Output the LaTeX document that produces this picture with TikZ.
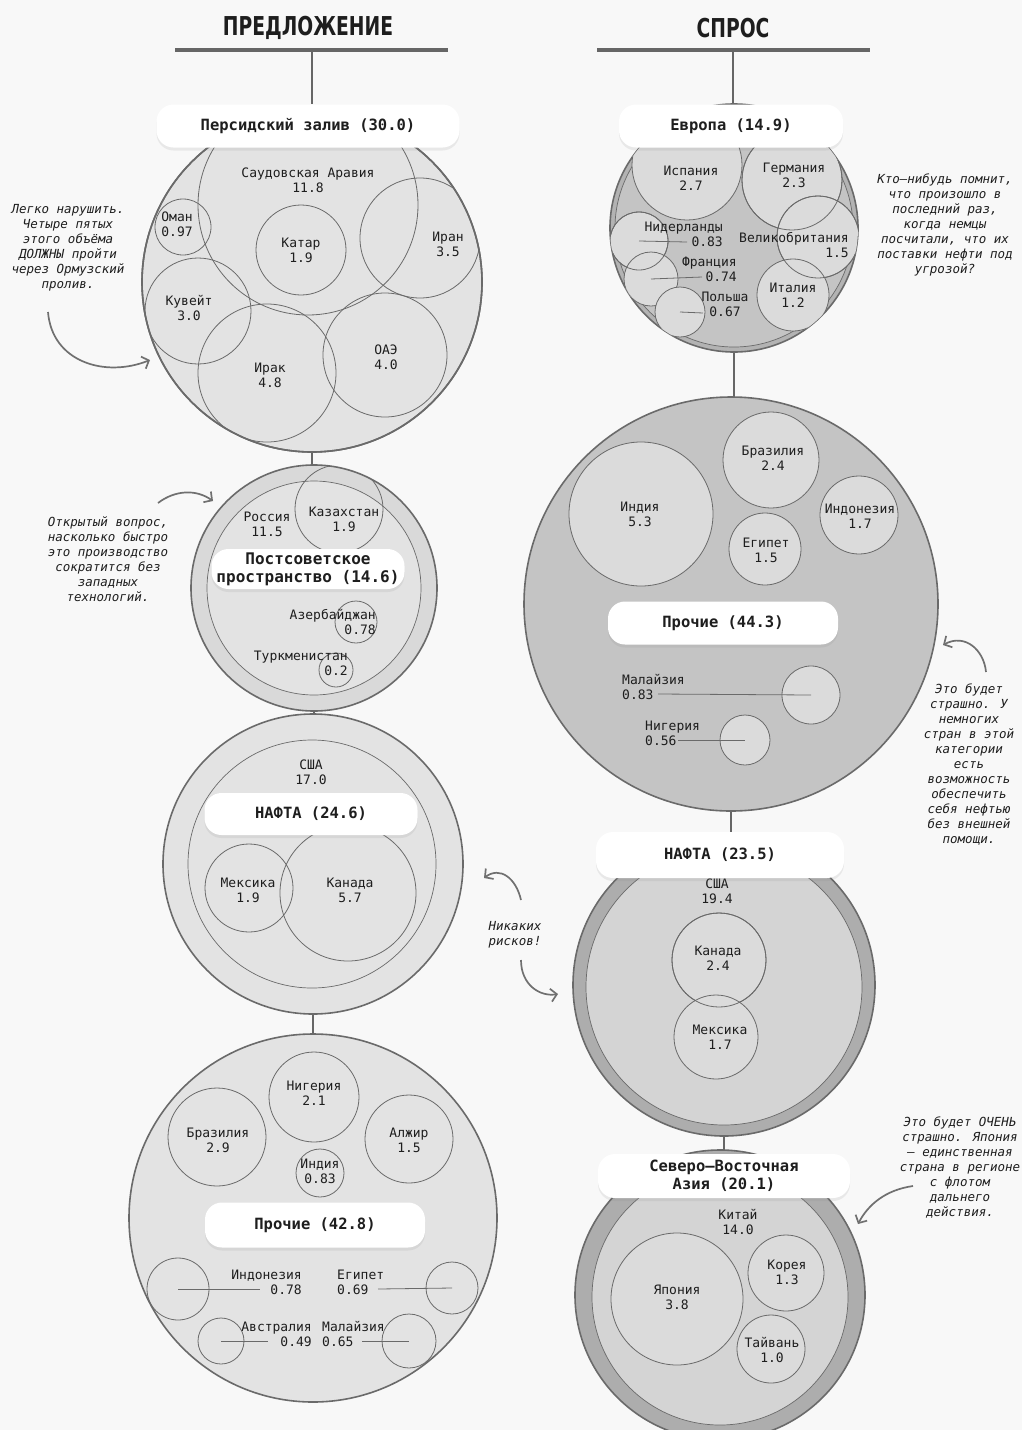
\documentclass[tikz,border=0pt]{standalone}
\usepackage{fontspec}
\setmainfont{DejaVu Sans Mono}
\newfontfamily\hdrfont[FakeStretch=0.72]{DejaVu Sans}
\usetikzlibrary{arrows.meta,shadows}
\pgfdeclarelayer{back}
\pgfdeclarelayer{links}
\pgfsetlayers{back,links,main}
\definecolor{bgc}{HTML}{F8F8F8}
\definecolor{edge}{HTML}{6A6A6A}
\definecolor{lightfill}{HTML}{E3E3E3}
\definecolor{psfill}{HTML}{D9D9D9}
\definecolor{midfill}{HTML}{C4C4C4}
\definecolor{subfill}{HTML}{DBDBDB}
\definecolor{ringfill}{HTML}{ADADAD}
\definecolor{innerfill}{HTML}{D4D4D4}
\definecolor{annot}{HTML}{707070}
\definecolor{linkc}{HTML}{666666}
\definecolor{txt}{HTML}{1E1E1E}
\tikzset{
 region/.style={circle, draw=edge, line width=1.6pt, inner sep=0pt, outer sep=0pt},
 inring/.style={circle, draw=edge, line width=0.7pt, inner sep=0pt, outer sep=0pt},
 subc/.style={circle, draw=edge, line width=0.8pt, inner sep=0pt, outer sep=0pt},
 cty/.style={font=\fontsize{13}{15}\selectfont, text=txt, align=center, inner sep=0pt},
 rbox/.style={fill=white, rounded corners=17pt, inner sep=0pt, font=\fontsize{15.5}{18}\selectfont\bfseries, text=txt, align=center, drop shadow={opacity=0.13, shadow xshift=0pt, shadow yshift=-3pt}},
 ann/.style={font=\fontsize{12.5}{15}\selectfont\itshape, text=txt, align=center, inner sep=0pt},
 link/.style={draw=linkc, line width=2.6pt},
 hbar/.style={draw=linkc, line width=3.6pt},
 annarrow/.style={draw=annot, line width=1.7pt, -{Straight Barb[length=6pt,width=13pt]}},
 ptr/.style={draw=edge, line width=0.8pt},
 hdr/.style={font=\hdrfont\bfseries\fontsize{26}{30}\selectfont, text=txt, inner sep=0pt}
}
\begin{document}
\begin{tikzpicture}[x=1pt,y=-1pt]
\useasboundingbox (0,0) rectangle (1022,1430);
\begin{pgfonlayer}{back}
\fill[bgc] (0,0) rectangle (1022,1430);
\end{pgfonlayer}

% ---------- headers ----------
\node[hdr] (hL) at (308,28) {ПРЕДЛОЖЕНИЕ};
\node[hdr] (hR) at (733,28) {СПРОС};
\coordinate (barL1) at (175,50); \coordinate (barL2) at (448,50); \coordinate (barLm) at (312,50);
\coordinate (barR1) at (597,50); \coordinate (barR2) at (870,50); \coordinate (barRm) at (733,50);
\draw[hbar] (barL1) -- (barL2);
\draw[hbar] (barR1) -- (barR2);

% ---------- SUPPLY: Persian Gulf ----------
\node[region, fill=lightfill, minimum size=340pt] (pgC) at (312,282) {};
\begin{scope}
\clip (312,282) circle (170pt);
\node[subc, minimum size=220pt] (sa) at (308,205) {};
\node[subc, minimum size=56pt] (om) at (183,227) {};
\node[subc, minimum size=90pt] (qa) at (301,250) {};
\node[subc, minimum size=120pt] (ir) at (420,238) {};
\node[subc, minimum size=106pt] (ku) at (198,311) {};
\node[subc, minimum size=138pt] (iq) at (267,373) {};
\node[subc, minimum size=124pt] (ae) at (385,355) {};
\end{scope}
\draw[region, fill=none] (pgC.center) circle (170pt);
\node[cty] (saT) at (308,180) {Саудовская Аравия\\11.8};
\node[cty] (omT) at (177,224) {Оман\\0.97};
\node[cty] (qaT) at (301,250) {Катар\\1.9};
\node[cty] (irT) at (448,244) {Иран\\3.5};
\node[cty] (kuT) at (189,308) {Кувейт\\3.0};
\node[cty] (iqT) at (270,375) {Ирак\\4.8};
\node[cty] (aeT) at (386,357) {ОАЭ\\4.0};
\node[rbox, minimum width=303pt, minimum height=43pt] (pgBox) at (308,126) {Персидский залив (30.0)};

% ---------- SUPPLY: post-Soviet ----------
\node[region, fill=psfill, minimum size=246pt] (psC) at (314,588) {};
\node[inring, fill=lightfill, minimum size=214pt] (psIn) at (314,588) {};
\begin{scope}
\clip (314,588) circle (123pt);
\node[subc, minimum size=88pt] (kz) at (339,509) {};
\node[subc, minimum size=42pt] (az) at (356,622) {};
\node[subc, minimum size=34pt] (tm) at (336,670) {};
\end{scope}
\node[cty] (ruT) at (267,524) {Россия\\11.5};
\node[cty] (kzT) at (344,519) {Казахстан\\1.9};
\node[cty, anchor=east, align=right] (azT) at (376,622) {Азербайджан\\0.78};
\node[cty, anchor=east, align=right] (tmT) at (348,663) {Туркменистан\\0.2};
\node[rbox, minimum width=193pt, minimum height=40pt, font=\fontsize{16}{18}\selectfont\bfseries] (psBox) at (308,569) {Постсоветское\\пространство (14.6)};

% ---------- SUPPLY: NAFTA ----------
\node[region, fill=lightfill, minimum size=300pt] (nsC) at (313,864) {};
\node[inring, fill=lightfill, minimum size=248pt] (nsIn) at (312,864) {};
\node[subc, minimum size=88pt] (mx) at (249,888) {};
\node[subc, minimum size=136pt] (ca) at (348,893) {};
\node[cty] (usT) at (311,772) {США\\17.0};
\node[cty] (mxT) at (248,890) {Мексика\\1.9};
\node[cty] (caT) at (350,890) {Канада\\5.7};
\node[rbox, minimum width=213pt, minimum height=42pt] (nsBox) at (311,814) {НАФТА (24.6)};

% ---------- SUPPLY: Others ----------
\node[region, fill=lightfill, minimum size=368pt] (osC) at (313,1218) {};
\node[subc, minimum size=90pt] (ngS) at (314,1097) {};
\node[subc, minimum size=98pt] (brS) at (217,1137) {};
\node[subc, minimum size=88pt] (dzS) at (409,1139) {};
\node[subc, minimum size=48pt] (inS) at (320,1173) {};
\node[cty] (ngST) at (314,1093) {Нигерия\\2.1};
\node[cty] (brST) at (218,1140) {Бразилия\\2.9};
\node[cty] (dzST) at (409,1140) {Алжир\\1.5};
\node[cty] (inST) at (320,1171) {Индия\\0.83};
\node[rbox, minimum width=220pt, minimum height=45pt] (osBox) at (315,1225) {Прочие (42.8)};
\node[subc, minimum size=62pt] (idS) at (178,1289) {};
\node[subc, minimum size=52pt] (egS) at (452,1288) {};
\node[subc, minimum size=46pt] (auS) at (221,1341) {};
\node[subc, minimum size=54pt] (myS) at (409,1341) {};
\coordinate (idSL) at (260,1289); \coordinate (egSL) at (378,1289);
\coordinate (auSL) at (268,1341); \coordinate (mySL) at (362,1341);
\draw[ptr] (idS.center) -- (idSL);
\draw[ptr] (egSL) -- (egS.center);
\draw[ptr] (auS.center) -- (auSL);
\draw[ptr] (mySL) -- (myS.center);
\node[cty, anchor=east, align=right] (idST) at (302,1282) {Индонезия\\0.78};
\node[cty, anchor=west, align=left] (egST) at (337,1282) {Египет\\0.69};
\node[cty, anchor=east, align=right] (auST) at (312,1334) {Австралия\\0.49};
\node[cty, anchor=west, align=left] (myST) at (322,1334) {Малайзия\\0.65};

% ---------- DEMAND: Europe ----------
\node[region, fill=ringfill!75!midfill, minimum size=248pt] (euC) at (734,228) {};
\node[inring, fill=midfill, minimum size=238pt] (euIn) at (734,228) {};
\begin{scope}
\clip (734,228) circle (124pt);
\node[subc, fill=subfill, minimum size=110pt] (es) at (687,165) {};
\node[subc, fill=subfill, minimum size=100pt] (de) at (792,180) {};
\node[subc, fill=subfill, minimum size=58pt] (nl) at (639,241) {};
\node[subc, fill=subfill, minimum size=54pt] (fr) at (651,279) {};
\node[subc, fill=subfill, minimum size=50pt] (pl) at (680,312) {};
\node[subc, fill=none, minimum size=58pt] (nl2) at (639,241) {};
\node[subc, fill=subfill, minimum size=82pt] (gb) at (818,237) {};
\node[subc, fill=subfill, minimum size=72pt] (it) at (793,295) {};
\node[subc, fill=none, minimum size=82pt] (gb2) at (818,237) {};
\node[subc, fill=none, minimum size=100pt] (de2) at (792,180) {};
\end{scope}
\coordinate (nlL) at (687,242); \coordinate (frL) at (702,277); \coordinate (plL) at (703,313);
\draw[ptr] (nl.center) -- (nlL);
\draw[ptr] (fr.center) -- (frL);
\draw[ptr] (pl.center) -- (plL);
\node[cty] (esT) at (691,178) {Испания\\2.7};
\node[cty] (deT) at (794,175) {Германия\\2.3};
\node[cty, anchor=east, align=right] (nlT) at (723,234) {Нидерланды\\0.83};
\node[cty, anchor=east, align=right] (frT) at (737,269) {Франция\\0.74};
\node[cty] (plT) at (725,304) {Польша\\0.67};
\node[cty, anchor=east, align=right] (gbT) at (849,245) {Великобритания\\1.5};
\node[cty] (itT) at (793,295) {Италия\\1.2};
\node[rbox, minimum width=224pt, minimum height=43pt] (euBox) at (731,126) {Европа (14.9)};

% ---------- DEMAND: Others ----------
\node[region, fill=midfill, minimum size=414pt] (odC) at (731,604) {};
\node[subc, fill=subfill, minimum size=144pt] (inD) at (641,514) {};
\node[subc, fill=subfill, minimum size=96pt] (brD) at (771,460) {};
\node[subc, fill=subfill, minimum size=78pt] (idD) at (859,515) {};
\node[subc, fill=subfill, minimum size=72pt] (egD) at (765,549) {};
\node[cty] (inDT) at (640,514) {Индия\\5.3};
\node[cty] (brDT) at (773,458) {Бразилия\\2.4};
\node[cty] (idDT) at (860,516) {Индонезия\\1.7};
\node[cty] (egDT) at (766,550) {Египет\\1.5};
\node[rbox, minimum width=230pt, minimum height=43pt] (odBox) at (723,623) {Прочие (44.3)};
\node[subc, fill=subfill, minimum size=58pt] (myD) at (811,695) {};
\node[subc, fill=subfill, minimum size=50pt] (ngD) at (745,740) {};
\coordinate (myDL) at (658,694); \coordinate (ngDL) at (678,740);
\draw[ptr] (myDL) -- (myD.center);
\draw[ptr] (ngDL) -- (ngD.center);
\node[cty, anchor=west, align=left] (myDT) at (622,687) {Малайзия\\0.83};
\node[cty, anchor=west, align=left] (ngDT) at (645,733) {Нигерия\\0.56};

% ---------- DEMAND: NAFTA ----------
\node[region, fill=ringfill, minimum size=302pt] (ndC) at (724,985) {};
\node[inring, fill=innerfill, minimum size=276pt] (ndIn) at (724,987) {};
\node[subc, fill=subfill, minimum size=94pt] (caD) at (719,960) {};
\node[subc, fill=subfill, minimum size=84pt] (mxD) at (716,1037) {};
\node[subc, fill=none, minimum size=94pt] (caD2) at (719,960) {};
\node[cty] (usDT) at (717,891) {США\\19.4};
\node[cty] (caDT) at (718,958) {Канада\\2.4};
\node[cty] (mxDT) at (720,1037) {Мексика\\1.7};
\node[rbox, minimum width=248pt, minimum height=46pt] (ndBox) at (720,855) {НАФТА (23.5)};

% ---------- DEMAND: NE Asia ----------
\node[region, fill=ringfill, minimum size=290pt] (naC) at (720,1295) {};
\node[inring, fill=innerfill, minimum size=256pt] (naIn) at (720,1297) {};
\node[subc, fill=subfill, minimum size=132pt] (jp) at (677,1299) {};
\node[subc, fill=subfill, minimum size=76pt] (kr) at (786,1273) {};
\node[subc, fill=subfill, minimum size=68pt] (tw) at (771,1349) {};
\node[cty] (cnT) at (738,1222) {Китай\\14.0};
\node[cty] (jpT) at (677,1297) {Япония\\3.8};
\node[cty] (krT) at (787,1272) {Корея\\1.3};
\node[cty] (twT) at (772,1350) {Тайвань\\1.0};
\node[rbox, minimum width=252pt, minimum height=44pt] (naBox) at (724,1176) {Северо–Восточная\\Азия (20.1)};

% ---------- connectors ----------
\begin{pgfonlayer}{links}
\draw[link] (barLm) -- (barLm |- pgBox.north);
\draw[link] (barRm) -- (barRm |- euBox.north);
\draw[link] (pgC.south) -- (pgC.south |- psC.north);
\draw[link] (psC.south) -- (psC.south |- nsC.north);
\draw[link] (nsC.south) -- (nsC.south |- osC.north);
\draw[link] (euC.south) -- (euC.south |- odC.north);
\draw[link] (odC.south) -- (odC.south |- ndBox.north);
\draw[link] (ndC.south) -- (ndC.south |- naBox.north);
\end{pgfonlayer}

% ---------- annotations ----------
\node[ann] (a1) at (68,248) {Легко нарушить.\\Четыре пятых\\этого объёма\\ДОЛЖНЫ пройти\\через Ормузский\\пролив.};
\coordinate (a1s) at (48,312); \coordinate (a1e) at (150,360);
\draw[annarrow] (a1s) .. controls (52,362) and (105,378) .. (a1e);

\node[ann] (a2) at (945,225) {Кто–нибудь помнит,\\что произошло в\\последний раз,\\когда немцы\\посчитали, что их\\поставки нефти под\\угрозой?};

\node[ann] (a3) at (108,559) {Открытый вопрос,\\насколько быстро\\это производство\\сократится без\\западных\\технологий.};
\coordinate (a3s) at (158,503); \coordinate (a3e) at (213,501);
\draw[annarrow] (a3s) .. controls (175,490) and (196,489) .. (a3e);

\node[ann] (a4) at (969,765) {Это будет\\страшно. У\\немногих\\стран в этой\\категории\\есть\\возможность\\обеспечить\\себя нефтью\\без внешней\\помощи.};
\coordinate (a4s) at (986,672); \coordinate (a4e) at (943,645);
\draw[annarrow] (a4s) .. controls (984,650) and (965,633) .. (a4e);

\node[ann] (a5) at (515,935) {Никаких\\рисков!};
\coordinate (a5s) at (521,900); \coordinate (a5e) at (484,878);
\draw[annarrow] (a5s) .. controls (516,878) and (500,866) .. (a5e);
\coordinate (a5t) at (521,960); \coordinate (a5f) at (558,994);
\draw[annarrow] (a5t) .. controls (521,985) and (540,997) .. (a5f);

\node[ann] (a6) at (960,1168) {Это будет ОЧЕНЬ\\страшно. Япония\\— единственная\\страна в регионе\\с флотом\\дальнего\\действия.};
\coordinate (a6s) at (913,1186); \coordinate (a6e) at (858,1224);
\draw[annarrow] (a6s) .. controls (885,1190) and (868,1205) .. (a6e);
\end{tikzpicture}
\end{document}
